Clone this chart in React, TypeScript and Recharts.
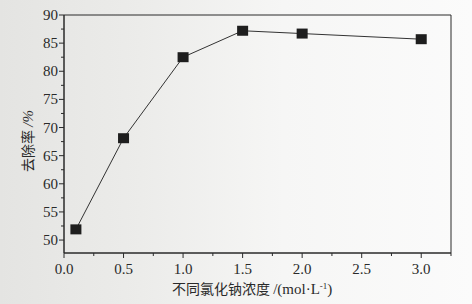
import { LineChart, Line, XAxis, YAxis, ReferenceArea } from "recharts";

const concentration = [0.1, 0.5, 1.0, 1.5, 2.0, 3.0];
const removal = [51.9, 68.1, 82.5, 87.2, 86.7, 85.7];
const xTicks = [0, 0.25, 0.5, 0.75, 1, 1.25, 1.5, 1.75, 2, 2.25, 2.5, 2.75, 3, 3.25];
const xMajor = [0, 0.5, 1, 1.5, 2, 2.5, 3];
const yTicks = [50, 52.5, 55, 57.5, 60, 62.5, 65, 67.5, 70, 72.5, 75, 77.5, 80, 82.5, 85, 87.5, 90];
const yMajor = [50, 55, 60, 65, 70, 75, 80, 85, 90];

const data = concentration.map((c, i) => ({ c, r: removal[i] }));

const ink = "#2a2a2a";
const numFont = "'Liberation Serif', 'Times New Roman', serif";
const cjkFont = "'Noto Sans CJK SC', sans-serif";

const XTick = (props: any) => {
  const { x, y, payload } = props;
  const v = payload.value;
  const major = xMajor.includes(v);
  const axisY = y - 8;
  return (
    <g>
      <line x1={x} x2={x} y1={axisY} y2={axisY + (major ? 5 : 3)} stroke={ink} />
      {major && (
        <text x={x} y={axisY + 21} textAnchor="middle" style={{ fontSize: 15, fontFamily: numFont }} fill={ink}>
          {v.toFixed(1)}
        </text>
      )}
    </g>
  );
};

const YTick = (props: any) => {
  const { x, y, payload } = props;
  const v = payload.value;
  const major = yMajor.includes(v);
  const axisX = x + 8;
  return (
    <g>
      <line x1={axisX} x2={axisX - (major ? 5 : 3)} y1={y} y2={y} stroke={ink} />
      {major && (
        <text x={axisX - 6} y={y + 5} textAnchor="end" style={{ fontSize: 15, fontFamily: numFont }} fill={ink}>
          {v}
        </text>
      )}
    </g>
  );
};

const Square = (props: any) => {
  const { cx, cy } = props;
  return <rect x={cx - 5.5} y={cy - 5} width={11} height={10} fill="#1e1e1e" />;
};

export default function App() {
  return (
    <div
      style={{
        position: "fixed",
        left: 0,
        top: 0,
        width: 472,
        height: 304,
        background: "linear-gradient(90deg, #e4e4e2 0%, #ececea 30%, #f6f6f5 60%, #fbfbfb 100%)",
      }}
    >
      <LineChart width={472} height={304} data={data} margin={{ top: 15, right: 21, bottom: 6, left: 8 }}>
        <XAxis
          dataKey="c"
          type="number"
          domain={[0, 3.25]}
          ticks={xTicks}
          interval={0}
          tickLine={false}
          tickSize={5}
          tickMargin={3}
          height={45}
          stroke={ink}
          tick={<XTick />}
          allowDataOverflow
        />
        <YAxis
          type="number"
          domain={[47.7, 90]}
          ticks={yTicks}
          interval={0}
          tickLine={false}
          tickSize={5}
          tickMargin={3}
          width={56}
          stroke={ink}
          tick={<YTick />}
          allowDataOverflow
        />
        <ReferenceArea x1={0} x2={3.25} y1={47.7} y2={90} fill="none" stroke={ink} strokeWidth={1} />
        <Line
          dataKey="r"
          type="linear"
          stroke="#333"
          strokeWidth={1}
          dot={<Square />}
          activeDot={false}
          isAnimationActive={false}
        />
        <text x={172} y={294} textAnchor="start" fill={ink}>
          <tspan style={{ fontFamily: cjkFont, fontSize: 14 }}>不同氯化钠浓度 </tspan>
          <tspan style={{ fontFamily: numFont, fontSize: 15 }}>/(mol·L</tspan>
          <tspan style={{ fontFamily: numFont, fontSize: 9 }} dy={-5}>-1</tspan>
          <tspan style={{ fontFamily: numFont, fontSize: 15 }} dy={5}>)</tspan>
        </text>
        <text x={0} y={0} transform="translate(33 141) rotate(-90)" textAnchor="middle" fill={ink}>
          <tspan style={{ fontFamily: cjkFont, fontSize: 14 }}>去除率 </tspan>
          <tspan style={{ fontFamily: numFont, fontSize: 15, fontStyle: "italic" }}>/%</tspan>
        </text>
      </LineChart>
    </div>
  );
}
